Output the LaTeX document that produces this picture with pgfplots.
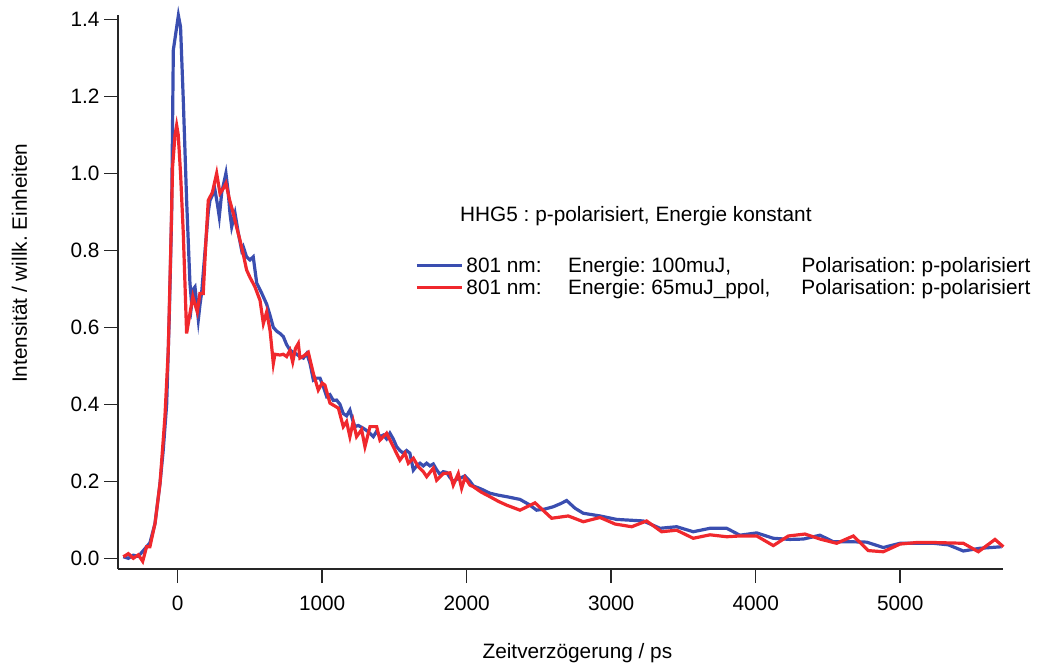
\documentclass[border=0pt]{standalone}
\usepackage{pgfplots}
\pgfplotsset{compat=1.18}
\usepackage{fontspec}
\setmainfont{Liberation Sans}
\definecolor{cblue}{RGB}{58,78,176}
\definecolor{cred}{RGB}{240,40,45}
\begin{document}
\frenchspacing
\begin{tikzpicture}
\path[use as bounding box] (0,0) rectangle (782.25pt,501.75pt);
\begin{axis}[
  at={(88.7pt,75pt)}, anchor=south west,
  scale only axis, width=663.5pt, height=415.5pt,
  xmin=-411, xmax=5711, ymin=-0.0278, ymax=1.4112,
  axis lines=left, axis line style={-, line width=1.2pt, black!85},
  tick align=outside, major tick length=10.5pt,
  tick style={line width=1.2pt, black!85},
  xtick={0,1000,2000,3000,4000,5000},
  ytick={0,0.2,0.4,0.6,0.8,1.0,1.2,1.4},
  minor tick num=0,
  xticklabel style={/pgf/number format/set thousands separator={}, yshift=-6pt},
  yticklabel style={/pgf/number format/.cd, fixed, fixed zerofill, precision=1},
  /pgf/number format/assume math mode=true,
  ticklabel style={font=\fontsize{15.6}{18}\selectfont},
  label style={font=\fontsize{15.6}{18}\selectfont},
  xlabel={Zeitverzögerung / ps},
  ylabel={Intensität / willk. Einheiten},
  xlabel style={at={(axis description cs:0.519,-0.152)}, anchor=center},
  ylabel style={at={(axis description cs:-0.1117,0.552)}, anchor=center},
  clip=false,
  legend cell align=left,
  legend image code/.code={\draw[#1] (-2pt,0pt) -- (32pt,0pt);},
  legend style={draw=none, fill=none, at={(axis description cs:0.3354,0.5686)}, anchor=north west,
    font=\fontsize{15.6}{17}\selectfont, row sep=0pt, inner sep=0pt},
]
\addplot[cblue, line width=2.4pt] coordinates {
(-376,0.004) (-341,0.0) (-307,0.008) (-272,0.005) (-238,0.02) (-192,0.04) (-157,0.09) (-122,0.195)
(-100,0.28) (-76,0.40) (-58,0.628) (-42,0.887) (-30,1.32) (5,1.41) (20,1.38) (39,1.19) (62,0.93)
(85,0.715) (97,0.66) (110,0.70) (120,0.705) (143,0.62) (155,0.66) (166,0.69) (190,0.80) (212,0.90)
(224,0.93) (258,0.957) (275,0.92) (288,0.887) (305,0.95) (334,1.0) (350,0.95) (362,0.896) (374,0.861)
(397,0.896) (420,0.844) (443,0.80) (454,0.809) (477,0.783) (500,0.775) (523,0.783) (547,0.715)
(580,0.69) (616,0.66) (640,0.63) (662,0.60) (685,0.59) (708,0.584) (731,0.576) (754,0.555) (777,0.541)
(800,0.535) (823,0.53) (846,0.524) (870,0.52) (893,0.532) (916,0.506) (939,0.463) (962,0.468)
(985,0.468) (1008,0.446) (1031,0.42) (1054,0.425) (1077,0.41) (1100,0.411) (1123,0.40) (1146,0.376)
(1169,0.37) (1192,0.385) (1210,0.36) (1227,0.342) (1250,0.345) (1284,0.338) (1315,0.33) (1354,0.316)
(1377,0.33) (1400,0.316) (1423,0.32) (1446,0.31) (1469,0.325) (1492,0.31) (1515,0.29) (1538,0.28)
(1561,0.273) (1584,0.28) (1607,0.273) (1631,0.229) (1654,0.24) (1677,0.247) (1700,0.24) (1723,0.247)
(1746,0.24) (1769,0.245) (1792,0.23) (1815,0.218) (1838,0.225) (1861,0.223) (1884,0.21) (1907,0.2)
(1930,0.205) (1965,0.21) (1988,0.214) (2023,0.2) (2046,0.188) (2100,0.18) (2161,0.169) (2219,0.164)
(2277,0.16) (2369,0.153) (2430,0.14) (2484,0.125) (2542,0.128) (2600,0.134) (2650,0.142) (2692,0.15)
(2750,0.13) (2807,0.117) (2923,0.11) (3038,0.101) (3130,0.099) (3222,0.097) (3338,0.078) (3453,0.082)
(3568,0.069) (3684,0.078) (3799,0.078) (3891,0.06) (4007,0.066) (4122,0.052) (4237,0.049) (4330,0.05)
(4445,0.06) (4537,0.043) (4652,0.043) (4768,0.042) (4883,0.028) (4999,0.039) (5114,0.039) (5229,0.039)
(5333,0.035) (5437,0.019) (5552,0.026) (5702,0.03)
};
\addlegendentry{\makebox[76.3pt][l]{801 nm:}\makebox[175pt][l]{Energie: 100muJ,}Polarisation: p-polarisiert}
\addplot[cred, line width=2.4pt] coordinates {
(-376,0.004) (-341,0.012) (-307,0.0) (-272,0.009) (-242,-0.008) (-215,0.03) (-192,0.03) (-157,0.09)
(-122,0.195) (-88,0.368) (-65,0.541) (-48,0.80) (-35,1.017) (-18,1.10) (-7,1.125) (4,1.10) (20,1.0)
(39,0.844) (62,0.584) (85,0.636) (105,0.68) (120,0.66) (136,0.64) (154,0.688) (177,0.688) (195,0.82)
(212,0.93) (240,0.95) (270,1.0) (293,0.948) (315,0.96) (334,0.974) (360,0.93) (385,0.896) (408,0.86)
(431,0.827) (454,0.79) (477,0.749) (500,0.73) (535,0.705) (570,0.67) (593,0.61) (616,0.64) (640,0.59)
(662,0.506) (673,0.53) (708,0.528) (731,0.53) (754,0.524) (777,0.54) (796,0.51) (815,0.545) (835,0.558)
(846,0.52) (870,0.525) (904,0.535) (939,0.48) (973,0.437) (1000,0.455) (1019,0.45) (1054,0.403)
(1090,0.395) (1112,0.39) (1146,0.342) (1169,0.355) (1192,0.316) (1215,0.355) (1238,0.316) (1273,0.334)
(1296,0.29) (1331,0.342) (1377,0.342) (1400,0.307) (1446,0.325) (1492,0.29) (1538,0.255) (1573,0.273)
(1596,0.247) (1631,0.26) (1665,0.238) (1700,0.225) (1723,0.212) (1769,0.234) (1792,0.203) (1838,0.22)
(1884,0.222) (1907,0.19) (1942,0.22) (1965,0.182) (1988,0.21) (2023,0.19) (2046,0.186) (2100,0.172)
(2161,0.16) (2219,0.148) (2277,0.138) (2369,0.125) (2473,0.144) (2588,0.104) (2703,0.11) (2807,0.095)
(2923,0.106) (3027,0.089) (3142,0.082) (3245,0.097) (3349,0.069) (3453,0.073) (3568,0.052) (3684,0.061)
(3799,0.056) (3891,0.058) (4007,0.058) (4122,0.033) (4226,0.058) (4341,0.063) (4445,0.05) (4560,0.039)
(4676,0.058) (4779,0.02) (4883,0.017) (4999,0.037) (5114,0.041) (5229,0.041) (5437,0.039) (5541,0.017)
(5656,0.049) (5714,0.03)
};
\addlegendentry{\makebox[76.3pt][l]{801 nm:}\makebox[175pt][l]{Energie: 65muJ\_ppol,}Polarisation: p-polarisiert}
\node[anchor=west, font=\fontsize{15.6}{18}\selectfont, inner sep=0pt] at (axis description cs:0.3862,0.637) {HHG5 : p-polarisiert, Energie konstant};
\end{axis}
\end{tikzpicture}
\end{document}
